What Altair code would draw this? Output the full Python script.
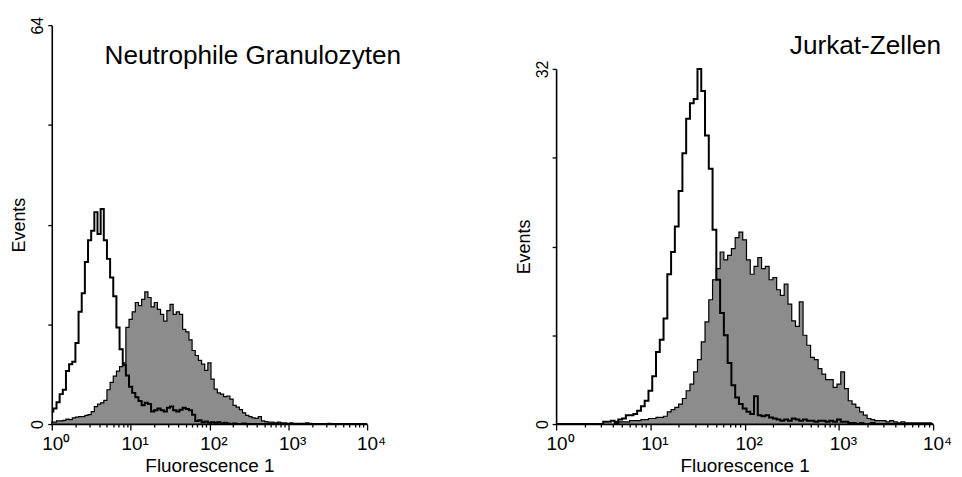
import altair as alt
import pandas as pd

# Histogram channels: 101 bins evenly spaced in log10 (0.04 decade each), 10^0 .. 10^4
BIN_EXP = [round(i * 0.04, 2) for i in range(101)]
FLUOR = [10 ** e for e in BIN_EXP]

# Neutrophile Granulozyten (Events per channel)
neut_control = [
    2.0, 2.5, 3.5, 4.8, 5.5, 8.5, 9.6, 10.0, 13.0, 18.0,
    21.0, 26.0, 29.5, 31.0, 34.0, 30.5, 34.5, 29.5, 26.5, 23.5,
    20.5, 15.5, 12.0, 9.5, 7.8, 6.0, 5.0, 4.3, 3.7, 3.0,
    3.4, 3.2, 2.0, 2.2, 2.5, 2.2, 2.0, 2.6, 2.8, 2.2,
    2.0, 2.3, 2.6, 2.4, 2.2, 1.5, 0.5, 0.6, 0.3, 0.4,
    0.2, 0.3, 0.2, 0.3, 0.1, 0.2, 0.1, 0.0, 0.1, 0.0,
    0.0, 0.1, 0.0, 0.0, 0.0, 0.0, 0.0, 0.0, 0.0, 0.0,
    0.0, 0.0, 0.0, 0.0, 0.0, 0.0, 0.0, 0.0, 0.0, 0.0,
    0.0, 0.0, 0.0, 0.0, 0.0, 0.0, 0.0, 0.0, 0.0, 0.0,
    0.0, 0.0, 0.0, 0.0, 0.0, 0.0, 0.0, 0.0, 0.0, 0.0,
    0.0,
]
neut_stained = [
    0.3, 0.3, 0.5, 0.5, 0.6, 0.8, 0.7, 1.0, 1.1, 1.2,
    1.2, 1.4, 1.5, 2.0, 2.8, 3.2, 3.4, 3.8, 5.5, 6.7,
    7.7, 8.5, 9.2, 9.8, 15.5, 16.8, 18.0, 19.5, 19.0, 20.0,
    21.2, 20.3, 18.8, 19.5, 18.4, 17.6, 16.5, 18.2, 19.2, 17.6,
    18.0, 17.6, 15.2, 14.8, 13.5, 11.8, 11.0, 10.2, 9.6, 8.6,
    9.8, 7.2, 5.6, 5.0, 4.8, 4.4, 4.5, 4.0, 3.0, 2.7,
    2.3, 1.8, 1.4, 1.2, 1.0, 0.9, 1.2, 0.5, 0.4, 0.3,
    0.3, 0.2, 0.3, 0.2, 0.2, 0.1, 0.2, 0.1, 0.1, 0.1,
    0.1, 0.2, 0.1, 0.0, 0.0, 0.0, 0.0, 0.0, 0.1, 0.0,
    0.0, 0.0, 0.0, 0.0, 0.0, 0.0, 0.0, 0.0, 0.0, 0.0,
    0.0,
]

# Jurkat-Zellen (Events per channel)
jurkat_control = [
    0.0, 0.0, 0.0, 0.0, 0.0, 0.0, 0.0, 0.0, 0.0, 0.0,
    0.0, 0.0, 0.0, 0.2, 0.2, 0.3, 0.2, 0.4, 0.5, 0.8,
    0.8, 0.9, 1.2, 1.6, 2.1, 3.0, 4.3, 6.5, 7.6, 9.5,
    13.5, 15.5, 17.8, 21.0, 24.4, 27.5, 28.9, 29.3, 32.0, 30.0,
    26.0, 23.0, 17.5, 13.0, 10.0, 8.0, 5.5, 3.5, 2.4, 1.8,
    1.4, 1.1, 0.9, 2.5, 0.8, 0.7, 0.8, 0.6, 0.5, 0.4,
    0.3, 0.4, 0.3, 0.5, 0.4, 0.3, 0.4, 0.3, 0.3, 0.2,
    0.3, 0.3, 0.2, 0.3, 0.2, 0.4, 0.2, 0.2, 0.1, 0.1,
    0.0, 0.1, 0.0, 0.0, 0.1, 0.0, 0.0, 0.0, 0.0, 0.0,
    0.0, 0.0, 0.0, 0.0, 0.0, 0.0, 0.0, 0.0, 0.0, 0.0,
    0.0,
]
jurkat_stained = [
    0.0, 0.0, 0.0, 0.0, 0.0, 0.0, 0.0, 0.0, 0.0, 0.0,
    0.0, 0.0, 0.0, 0.0, 0.0, 0.0, 0.1, 0.2, 0.2, 0.2,
    0.3, 0.3, 0.3, 0.4, 0.4, 0.5, 0.5, 0.6, 0.6, 0.7,
    1.1, 1.3, 1.5, 1.8, 2.3, 3.0, 3.6, 4.7, 5.8, 7.4,
    9.2, 11.2, 13.0, 14.0, 15.5, 14.8, 15.2, 15.8, 16.8, 17.3,
    16.6, 14.8, 13.5, 14.2, 15.0, 14.0, 14.2, 13.0, 13.2, 12.1,
    11.6, 12.6, 10.8, 9.3, 8.8, 11.0, 8.0, 7.1, 6.0, 5.8,
    5.0, 4.5, 4.0, 4.0, 3.3, 3.6, 4.7, 3.2, 2.1, 1.8,
    1.5, 1.1, 0.8, 0.5, 0.4, 0.3, 0.3, 0.3, 0.2, 0.3,
    0.2, 0.1, 0.2, 0.1, 0.1, 0.1, 0.1, 0.1, 0.1, 0.1,
    0.0,
]

DECADES = [1, 10, 100, 1000, 10000]
X_TICKS = sorted(set([m * d for d in [1, 10, 100, 1000] for m in range(1, 10)] + [10000]))
SUPERSCRIPTS = ["\u2070", "\u00b9", "\u00b2", "\u00b3", "\u2074"]

FONT = "Liberation Sans"
GRAY = "#8c8c8c"
PANEL_H = 411


def panel(control, stained, ymax, ystep, width, y_top, title, title_x, title_y):
    df = pd.DataFrame({"F": FLUOR, "control": control, "stained": stained})
    dec = "[" + ",".join(str(d) for d in DECADES) + "]"
    sup = "[" + ",".join("'" + s + "'" for s in SUPERSCRIPTS) + "]"
    xaxis = alt.Axis(
        values=X_TICKS,
        labelExpr=f"indexof({dec}, datum.value) >= 0 ? '10' + {sup}[indexof({dec}, datum.value)] : ''",
        title="Fluorescence 1",
        tickSize={"condition": {"test": f"indexof({dec}, datum.value) >= 0", "value": 6}, "value": 3},
        labelPadding=5,
        labelOffset=4,
        labelFontSize=19,
        labelFlush=False,
        labelOverlap=False,
        titlePadding=3,
        titleFontSize=19,
    )
    x = alt.X("F:Q", scale=alt.Scale(type="log", domain=[1, 10000], nice=False), axis=xaxis)
    yvals = [ystep * k for k in range(5)]
    yaxis = alt.Axis(
        values=yvals,
        labelExpr=f"datum.value == 0 || datum.value == {ymax} ? datum.label : ''",
        title="Events",
        tickSize=4,
        labelAngle=270,
        labelAlign="center",
        labelBaseline="bottom",
        labelPadding=2,
        labelFontSize=16,
        labelFlush=False,
        labelOverlap=False,
        titlePadding=1,
        titleFontSize=18,
    )
    yscale = alt.Scale(domain=[0, ymax], range=[PANEL_H, y_top], nice=False)
    area = alt.Chart(df).mark_area(
        interpolate="step", fill=GRAY, stroke="black", strokeWidth=1.2
    ).encode(x=x, y=alt.Y("stained:Q", scale=yscale, axis=yaxis))
    line = alt.Chart(df).mark_line(
        interpolate="step", color="black", strokeWidth=2
    ).encode(x=x, y=alt.Y("control:Q", scale=yscale, axis=yaxis))
    txt = alt.Chart(pd.DataFrame({"t": [title]})).mark_text(
        align="left", baseline="alphabetic", font=FONT, fontSize=26.3, color="black"
    ).encode(x=alt.value(title_x), y=alt.value(title_y), text="t:N")
    return alt.layer(area, line, txt).properties(width=width, height=PANEL_H)


left = panel(neut_control, neut_stained, 64, 16, 317, 10,
             "Neutrophile Granulozyten", 53, 49)
right = panel(jurkat_control, jurkat_stained, 32, 8, 379, 54,
              "Jurkat-Zellen", 235, 39)

chart = alt.hconcat(left, right, spacing=114).properties(
    padding={"left": 3, "top": 6, "right": 2, "bottom": 0}
).configure_view(strokeWidth=0).configure_axis(
    grid=False,
    domainColor="black",
    domainWidth=1.6,
    tickColor="black",
    tickWidth=1.3,
    labelColor="black",
    labelFont=FONT,
    titleFont=FONT,
    titleFontWeight="normal",
    titleColor="black",
)

chart.save("out.html", embed_options={"renderer": "svg", "actions": False})
